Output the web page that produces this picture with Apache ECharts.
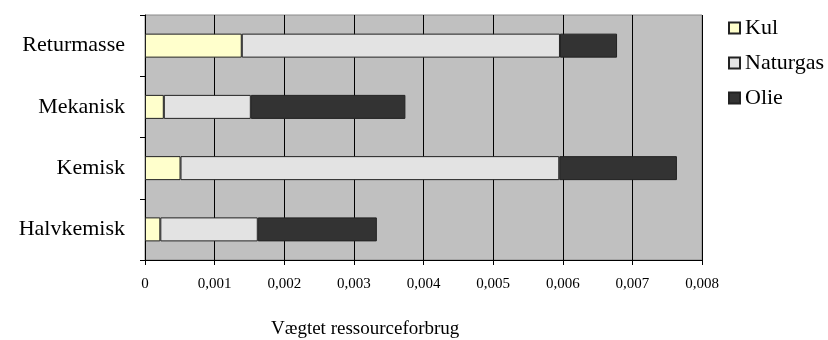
<!DOCTYPE html>
<html><head><meta charset="utf-8">
<script src="https://cdn.jsdelivr.net/npm/echarts@6/dist/echarts.min.js"></script>
<style>html,body{margin:0;padding:0;background:#fff}#c{width:828px;height:340px}</style>
</head><body><div id="c"></div>
<script>
const categories = ['Returmasse', 'Mekanisk', 'Kemisk', 'Halvkemisk'];
const kul = [0.00139, 0.00027, 0.00051, 0.00022];
const naturgas = [0.00457, 0.00125, 0.00544, 0.00140];
const olie = [0.00082, 0.00222, 0.00169, 0.00171];
const xTicks = [0, 0.001, 0.002, 0.003, 0.004, 0.005, 0.006, 0.007, 0.008];
const xName = 'Vægtet ressourceforbrug';

const FONT = '"Liberation Serif", "DejaVu Serif", serif';
const chart = echarts.init(document.getElementById('c'), null, {renderer: 'canvas'});
function mk(name, data, color) {
  return {
    name, type: 'bar', stack: 'total', data,
    barWidth: 24,
    itemStyle: {color, borderColor: '#222', borderWidth: 1},
    emphasis: {disabled: true}
  };
}
chart.setOption({
  animation: false,
  textStyle: {fontFamily: FONT},
  grid: {left: 145, right: 126, top: 15, bottom: 80, show: true,
         backgroundColor: '#c0c0c0', borderColor: '#8a8a8a', borderWidth: 1},
  legend: {
    orient: 'vertical', left: 723, top: 12,
    itemWidth: 11, itemHeight: 11, itemGap: 13,
    icon: 'rect',
    textStyle: {fontFamily: FONT, fontSize: 22, color: '#000', lineHeight: 22, padding: [0,0,0,0]},
    data: ['Kul', 'Naturgas', 'Olie']
  },
  title: {
    text: xName, left: 266, top: 315,
    textStyle: {fontFamily: FONT, fontSize: 19, fontWeight: 'normal', color: '#000'}
  },
  xAxis: {
    type: 'value', min: 0, max: 0.008, interval: 0.001,
    axisLine: {show: true, lineStyle: {color: '#000'}},
    axisTick: {show: true, length: 5, lineStyle: {color: '#000'}},
    axisLabel: {
      margin: 17, color: '#000', fontFamily: FONT, fontSize: 15,
      formatter: v => { const t = xTicks.find(x => Math.abs(x - v) < 1e-9); return String(t === undefined ? v : t).replace('.', ','); }
    },
    splitLine: {show: true, lineStyle: {color: '#000', width: 1}}
  },
  yAxis: {
    type: 'category', data: categories, inverse: true,
    axisLine: {show: true, lineStyle: {color: '#000'}},
    axisTick: {show: true, length: 5, lineStyle: {color: '#000'}},
    axisLabel: {margin: 20, color: '#000', fontFamily: FONT, fontSize: 22}
  },
  series: [
    mk('Kul', kul, '#ffffcc'),
    mk('Naturgas', naturgas, '#e3e3e3'),
    mk('Olie', olie, '#333333')
  ]
});
</script></body></html>
